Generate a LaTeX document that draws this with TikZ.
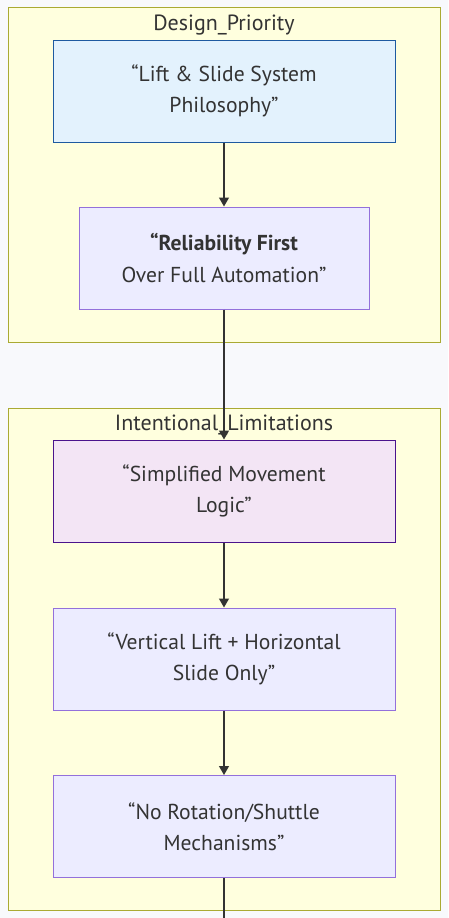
\documentclass[tikz,border=0pt]{standalone}
\usepackage{fontspec}
\setmainfont{PT Sans}
\usetikzlibrary{arrows.meta}
\definecolor{bgc}{HTML}{F8F9FC}
\definecolor{clfill}{HTML}{FFFFDE}
\definecolor{cldraw}{HTML}{AAAA33}
\definecolor{ndfill}{HTML}{ECECFF}
\definecolor{nddraw}{HTML}{9370DB}
\definecolor{afill}{HTML}{E3F2FD}
\definecolor{adraw}{HTML}{1E5AA0}
\definecolor{cfill}{HTML}{F3E5F5}
\definecolor{cdraw}{HTML}{4A148C}
\definecolor{txt}{HTML}{333333}
\tikzset{
  cluster/.style={draw=cldraw, fill=clfill, line width=1pt},
  cllabel/.style={text=txt, font=\fontsize{22}{26}\selectfont, inner sep=0pt},
  box/.style={draw=nddraw, fill=ndfill, line width=1pt, minimum width=342pt, minimum height=102pt, align=center, text=txt, font=\fontsize{21.6}{31.5}\selectfont, inner sep=0pt},
  edge/.style={draw=txt, line width=1.2pt, -{Triangle[width=10pt,length=9pt]}},
}
\begin{document}
\begin{tikzpicture}[x=1pt,y=-1pt]
\fill[bgc] (0,0) rectangle (448,918);
\useasboundingbox (0,0) rectangle (448,918);
\draw[cluster] (8,7) rectangle (440,342);
\draw[cluster] (8,408) rectangle (440,910);
\node[cllabel] (l1) at (224,25) {Design\_Priority};
\node[cllabel] (l2) at (224,425) {Intentional\_Limitations};
\node[box, draw=adraw, fill=afill] (A) at (224,91) {“Lift \& Slide System\\Philosophy”};
\node[box, minimum width=290pt] (B) at (224,258) {\textbf{“Reliability First}\\Over Full Automation”};
\node[box, draw=cdraw, fill=cfill] (C) at (224,491) {“Simplified Movement\\Logic”};
\node[box] (D) at (224,659) {“Vertical Lift + Horizontal\\Slide Only”};
\node[box] (E) at (224,826.5) {“No Rotation/Shuttle\\Mechanisms”};
\coordinate (out) at (224,918);
\draw[edge] (A) -- (B);
\draw[edge] (B) -- (C);
\draw[edge] (C) -- (D);
\draw[edge] (D) -- (E);
\draw[draw=txt, line width=1.2pt] (E) -- (out);
\end{tikzpicture}
\end{document}
